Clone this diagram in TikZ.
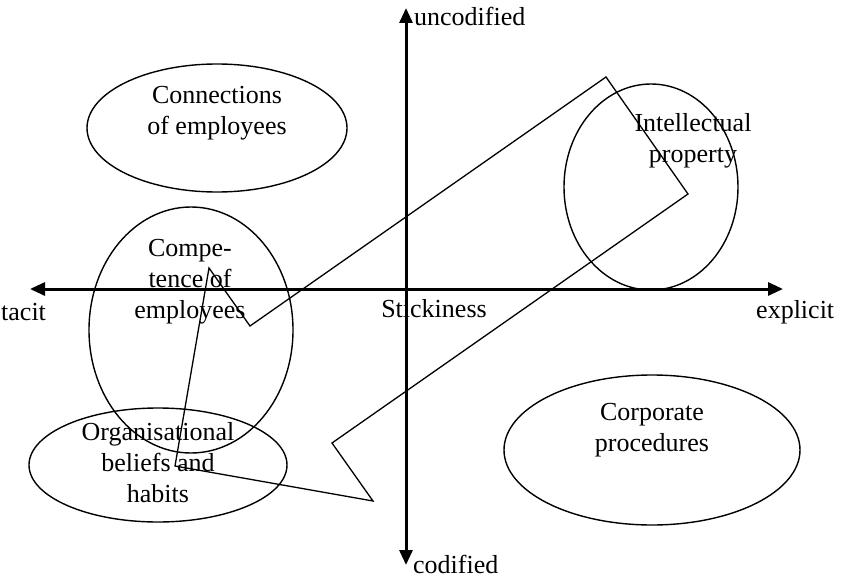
\documentclass[tikz,border=0pt]{standalone}
\usepackage{fontspec}
\setmainfont{Liberation Serif}
\usetikzlibrary{arrows.meta}
\begin{document}
\begin{tikzpicture}[x=1pt,y=-1pt,
  axis/.style={line width=3pt,-{Triangle[length=15pt,width=13pt]}},
  blob/.style={line width=1.4pt},
  path/.style={line width=1.3pt,line join=miter},
  lbl/.style={font=\fontsize{26}{31}\selectfont,inner sep=0pt},
  blk/.style={lbl,align=center}]
\useasboundingbox (0,0) rectangle (841,578);
% axes
\coordinate (o) at (406,289);
\coordinate (L) at (30,289);
\coordinate (R) at (783,289);
\coordinate (T) at (406,8);
\coordinate (B) at (406,565);
\draw[axis] (o) -- (L);
\draw[axis] (o) -- (R);
\draw[axis] (o) -- (T);
\draw[axis] (o) -- (B);
% axis labels
\node[lbl,anchor=west] (unc) at (414,16) {uncodified};
\node[lbl,anchor=west] (cod) at (413,564) {codified};
\node[lbl,anchor=west] (tac) at (1,312) {tacit};
\node[lbl,anchor=west] (exp) at (756,312) {explicit};
\node[lbl] (stk) at (434,309) {Stickiness};
% ellipses
\draw[blob] (217,128) ellipse [x radius=130,y radius=64];
\draw[blob] (191,330) ellipse [x radius=102,y radius=123];
\draw[blob] (158,465) ellipse [x radius=129,y radius=57];
\draw[blob] (651,187) ellipse [x radius=87,y radius=103];
\draw[blob] (652,450) ellipse [x radius=148,y radius=75];
% texts
\node[blk] (con) at (217,113) {Connections\\of employees};
\node[blk] (cmp) at (190,282) {Compe-\\tence of\\employees};
\node[blk] (org) at (158,463) {Organisational\\beliefs and\\habits};
\node[blk] (ip) at (693,141) {Intellectual\\property};
\node[blk] (cp) at (652,430) {Corporate\\procedures};
% polygon
\coordinate (p1) at (175,466);
\coordinate (p2) at (209,268);
\coordinate (p3) at (250,326);
\coordinate (p4) at (606,77);
\coordinate (p5) at (688,194);
\coordinate (p6) at (332,443);
\coordinate (p7) at (373,501);
\draw[path] (p1) -- (p2) -- (p3) -- (p4) -- (p5) -- (p6) -- (p7) -- cycle;
\end{tikzpicture}
\end{document}
